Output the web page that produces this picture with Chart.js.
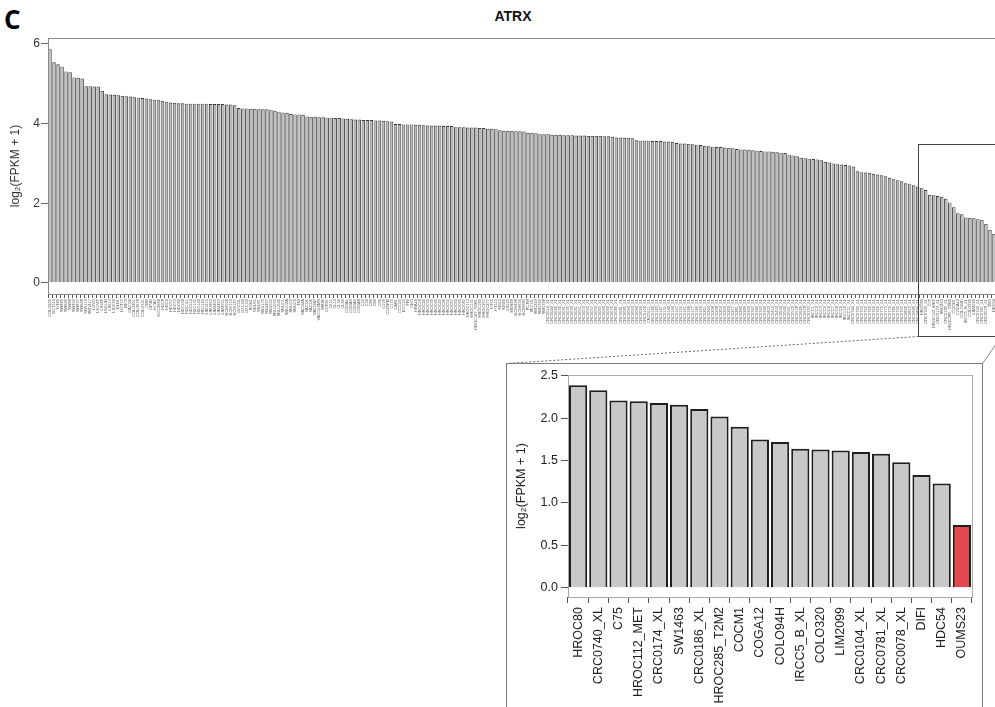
<!DOCTYPE html>
<html>
<head>
<meta charset="utf-8">
<script src="https://cdn.jsdelivr.net/npm/chart.js@4.4.1/dist/chart.umd.min.js"></script>
<style>
  html,body{margin:0;padding:0;background:#fff;overflow:hidden;width:995px;height:707px;}
  body{position:relative;font-family:"Liberation Sans",Arial,sans-serif;}
  #panelLetter{position:absolute;left:4px;top:1px;font:bold 26px "Open Sans",sans-serif;color:#000;}
  #mainTitle{position:absolute;left:0;top:8px;width:1026px;text-align:center;font:bold 14px "Liberation Sans",sans-serif;color:#111;}
  #mainCanvas{position:absolute;left:0;top:0;}
  #zoomPanel{position:absolute;left:506px;top:363px;width:477px;height:360px;border:1px solid #7a7a7a;box-sizing:border-box;}
  #zoomCanvas{position:absolute;left:0;top:0;}
</style>
</head>
<body>
<div id="panelLetter">C</div>
<div id="mainTitle">ATRX</div>
<canvas id="mainCanvas" width="1015" height="380"></canvas>
<div id="zoomPanel"><canvas id="zoomCanvas" width="475" height="345"></canvas></div>
<script>
// cell lines outside the zoomed window (labels too small to read in the source figure)
const mainLabels = ('COLO205 HCT116 HT29 SW480 SW620 SW48 SW403 SW837 SW948 SW1116 ' +
  'SW1417 LOVO LS174T LS180 LS411N LS513 LS1034 DLD1 HCT15 RKO ' +
  'CACO2 COLO201 COLO678 COLO741 CW2 GP2D HCA7 HCC2998 HDC8 HDC9 ' +
  'HDC57 HDC73 HDC82 HDC108 HDC111 HDC114 HDC135 HDC142 HDC143 LIM1215 ' +
  'LIM1863 LIM2405 LIM2463 LIM2551 NCIH508 NCIH716 NCIH747 OXCO1 OXCO2 OXCO3 ' +
  'RCM1 SNU61 SNU81 SNU175 SNU407 SNU503 SNU1033 SNU1040 SNUC1 SNUC2A ' +
  'SNUC4 SNUC5 T84 VACO4A VACO5 VACO6 VACO9P VACO10MS WIDR CCK81 ' +
  'CL11 CL14 CL34 CL40 COGA1 COGA3 COGA5 COGA8 C10 C32 ' +
  'C80 C84 C99 C106 C125PM C170 CAR1 CCCO3 ECC10 FRI ' +
  'GEO HRA19 HROC18 HROC24 HROC32 HROC39 HROC40 HROC43 HROC46 HROC50 ' +
  'HROC57 HROC60 HROC69 HROC87 HROC113 HROC131 HROC147_T0M1 HROC183 HROC257 HROC277 ' +
  'HT55 HT115 KM12 KM20 LS123 MDST8 NCIH498 NCIH630 NCIH684 PCJW ' +
  'SKCO1 SW1222 SW1345 SW1398 CRC0016_XL CRC0022_XL CRC0029_XL CRC0030_XL CRC0031_XL CRC0035_XL ' +
  'CRC0039_XL CRC0041_XL CRC0051_XL CRC0053_XL CRC0055_XL CRC0057_XL CRC0059_XL CRC0065_XL CRC0066_XL CRC0069_XL ' +
  'CRC0076_XL CRC0080_XL CRC0081_XL CRC0085_XL CRC0090_XL CRC0093_XL CRC0096_XL CRC0099_XL CRC0106_XL CRC0111_XL ' +
  'CRC0120_XL CRC0125_XL CRC0127_XL CRC0131_XL CRC0142_XL CRC0144_XL CRC0147_XL CRC0150_XL CRC0161_XL CRC0168_XL ' +
  'CRC0177_XL CRC0196_XL CRC0199_XL CRC0201_XL CRC0204_XL CRC0208_XL CRC0238_XL CRC0254_XL CRC0256_XL CRC0262_XL ' +
  'CRC0277_XL CRC0281_XL CRC0282_XL CRC0289_XL CRC0306_XL CRC0327_XL CRC0344_XL CRC0393_XL CRC0399_XL CRC0403_XL ' +
  'CRC0410_XL CRC0474_XL CRC0534_XL CRC0542_XL CRC0551_XL CRC0572_XL CRC0578_XL CRC0629_XL CRC0678_XL CRC0743_XL ' +
  'IRCC1_XL IRCC2_XL IRCC3_XL IRCC4_XL IRCC6_XL IRCC7_XL IRCC8_XL IRCC9_XL IRCC10_XL IRCC11_XL ' +
  'CRC0744_XL CRC0745_XL CRC0750_XL CRC0755_XL CRC0760_XL CRC0762_XL CRC0766_XL CRC0770_XL CRC0773_XL CRC0776_XL ' +
  'CRC0780_XL CRC0790_XL CRC0795_XL CRC0800_XL CRC0810_XL CRC0820_XL CRC0826_XL').split(' ');

const mainValues = [
  5.87,5.54,5.49,5.43,5.31,5.29,5.16,5.15,5.13,4.94,4.94,4.93,4.93,4.82,
  4.74,4.73,4.72,4.71,4.70,4.69,4.68,
  4.66,4.65,4.64,4.63,4.61,4.60,4.60,
  4.57,4.55,4.53,4.52,
  4.51,4.51,4.50,4.50,4.50,4.50,4.50,4.50,4.49,4.49,4.49,4.49,4.48,4.48,4.46,
  4.39,4.38,4.38,4.37,4.37,4.36,4.36,4.36,4.35,
  4.32,4.30,4.28,4.27,4.24,4.23,4.23,4.22,
  4.18,4.17,4.17,4.16,4.16,4.15,4.15,4.14,4.14,4.13,
  4.12,4.11,4.10,4.10,4.09,4.09,4.09,4.08,4.08,
  4.07,4.06,4.05,
  3.99,3.99,3.98,3.98,3.98,3.97,3.97,
  3.96,3.95,3.95,3.95,3.95,3.94,3.94,3.94,
  3.91,3.91,3.91,3.90,3.90,3.90,3.89,3.89,
  3.87,3.87,3.86,
  3.83,3.82,3.82,3.82,3.81,3.81,3.80,
  3.77,3.77,3.76,
  3.73,3.73,3.73,3.72,3.72,3.72,3.71,3.71,3.71,3.70,3.70,3.70,3.69,3.69,3.69,3.69,3.68,3.68,3.67,
  3.65,3.65,3.64,3.64,3.63,
  3.58,3.57,3.57,3.57,3.56,3.56,3.56,3.55,3.55,3.54,
  3.51,3.50,3.50,3.49,3.48,3.47,3.46,
  3.44,3.43,3.42,3.41,3.41,3.40,3.39,3.38,
  3.36,3.35,3.35,3.34,3.33,
  3.32,3.31,3.30,3.30,3.29,3.28,3.27,3.26,
  3.22,3.20,3.18,
  3.14,3.13,3.12,3.11,3.10,3.08,
  3.04,3.02,3.00,
  2.98,2.97,2.96,2.95,2.92,
  2.80,2.78,2.77,2.76,2.74,2.72,
  2.70,2.68,2.64,
  2.60,2.58,2.55,
  2.50,2.49,2.45,2.42
];

// the 20 lowest lines, shown in the zoomed panel
const zoomLabels = ['HROC80','CRC0740_XL','C75','HROC112_MET','CRC0174_XL','SW1463','CRC0186_XL',
  'HROC285_T2M2','COCM1','COGA12','COLO94H','IRCC5_B_XL','COLO320','LIM2099','CRC0104_XL',
  'CRC0781_XL','CRC0078_XL','DIFI','HDC54','OUMS23'];
const zoomValues = [2.39,2.33,2.21,2.20,2.18,2.16,2.11,2.02,1.90,1.75,1.72,1.64,1.63,1.62,1.60,1.58,1.48,1.33,1.23,0.74];
const highlight = 'OUMS23';

const mainTicks = [0, 2, 4, 6];
const zoomTicks = [0, 0.5, 1, 1.5, 2, 2.5];

const yTitle = 'log\u2082(FPKM + 1)';
const FONT = '"Liberation Sans", Arial, sans-serif';

const framePlugin = {
  id: 'frame',
  afterDraw(chart, args, opts){
    const {ctx, chartArea:a} = chart;
    ctx.save();
    ctx.strokeStyle = opts.color || '#888';
    ctx.lineWidth = 1;
    ctx.strokeRect(Math.round(a.left) + 0.5, Math.round(a.top) + 0.5,
                   Math.round(a.right - a.left), Math.round(a.bottom - a.top));
    ctx.restore();
  }
};

// rectangle around the zoomed bars and the two connector lines to the panel below
const zoomBoxPlugin = {
  id: 'zoomBox',
  afterDraw(chart){
    const {ctx, chartArea:a, scales:{x, y}} = chart;
    const first = mainValues.length;
    const pitch = x.getPixelForValue(1) - x.getPixelForValue(0);
    const left = Math.round(x.getPixelForValue(first) - pitch / 2 - 2) + 0.5;
    const right = Math.round(a.right + 1) + 0.5;
    const top = Math.round(y.getPixelForValue(3.5)) + 0.5;
    const bottom = Math.round(a.bottom + 42) + 0.5;
    const panel = document.getElementById('zoomPanel');
    const pl = panel.offsetLeft, pt = panel.offsetTop, pr = pl + panel.offsetWidth - 1;
    ctx.save();
    ctx.strokeStyle = '#444';
    ctx.lineWidth = 1;
    ctx.strokeRect(left, top, right - left, bottom - top);
    ctx.strokeStyle = '#666';
    ctx.setLineDash([2, 2]);
    ctx.beginPath();
    ctx.moveTo(left, bottom);
    ctx.lineTo(pl + 0.5, pt + 0.5);
    ctx.stroke();
    ctx.setLineDash([]);
    ctx.strokeStyle = '#888';
    ctx.beginPath();
    ctx.moveTo(right, bottom);
    ctx.lineTo(pr + 0.5, pt + 0.5);
    ctx.stroke();
    ctx.restore();
  }
};

new Chart(document.getElementById('mainCanvas'), {
  type: 'bar',
  data: {
    labels: mainLabels.concat(zoomLabels),
    datasets: [{
      data: mainValues.concat(zoomValues),
      backgroundColor: '#bdbdbd',
      borderColor: '#363636',
      borderWidth: 0.9,
      categoryPercentage: 0.86,
      barPercentage: 1
    }]
  },
  options: {
    responsive: false,
    animation: false,
    layout: { padding: { left: 0, top: 38, right: 15, bottom: 0 } },
    plugins: { legend: { display: false }, tooltip: { enabled: false }, frame: { color: '#8a8a8a' } },
    scales: {
      x: {
        afterFit(s){ s.height = 86; },
        border: { display: false },
        grid: { display: true, drawOnChartArea: false, drawTicks: true, tickLength: 4, color: '#555' },
        ticks: { autoSkip: false, minRotation: 90, maxRotation: 90, padding: 1,
                 font: { family: FONT, size: 4 }, color: '#555' }
      },
      y: {
        min: -0.28, max: 6.15,
        afterFit(s){ s.width = 48; },
        afterBuildTicks(s){ s.ticks = mainTicks.map(v => ({ value: v })); },
        border: { display: false },
        grid: { display: true, drawOnChartArea: false, drawTicks: true, tickLength: 7, color: '#666' },
        ticks: { padding: 1, font: { family: FONT, size: 12 }, color: '#333' },
        title: { display: true, text: yTitle, padding: { top: 8, bottom: 0 },
                 font: { family: FONT, size: 12 }, color: '#333' }
      }
    }
  },
  plugins: [framePlugin, zoomBoxPlugin]
});

new Chart(document.getElementById('zoomCanvas'), {
  type: 'bar',
  data: {
    labels: zoomLabels,
    datasets: [{
      data: zoomValues,
      backgroundColor: zoomLabels.map(l => l === highlight ? '#e5484f' : '#c8c8c8'),
      borderColor: '#1e1e1e',
      borderWidth: 2,
      categoryPercentage: 1,
      barPercentage: 0.9
    }]
  },
  options: {
    responsive: false,
    animation: false,
    layout: { padding: { left: 0, top: 11, right: 10, bottom: 0 } },
    plugins: { legend: { display: false }, tooltip: { enabled: false }, frame: { color: '#a8a8a8' } },
    scales: {
      x: {
        afterFit(s){ s.height = 112; },
        border: { display: false },
        grid: { display: true, drawOnChartArea: false, drawTicks: true, tickLength: 6, color: '#555' },
        ticks: { autoSkip: false, minRotation: 90, maxRotation: 90, padding: 4,
                 font: { family: FONT, size: 12.5 }, color: '#222' }
      },
      y: {
        min: -0.11, max: 2.51,
        afterFit(s){ s.width = 61; },
        afterBuildTicks(s){ s.ticks = zoomTicks.map(v => ({ value: v })); },
        border: { display: true, color: '#555' },
        grid: { display: true, drawOnChartArea: false, drawTicks: true, tickLength: 7, color: '#555' },
        ticks: { padding: 3, font: { family: FONT, size: 12.5 }, color: '#222',
                 callback: v => Number(v).toFixed(1) },
        title: { display: true, text: yTitle, padding: { top: 7, bottom: 0 },
                 font: { family: FONT, size: 12.5 }, color: '#222' }
      }
    }
  },
  plugins: [framePlugin]
});
</script>
</body>
</html>
